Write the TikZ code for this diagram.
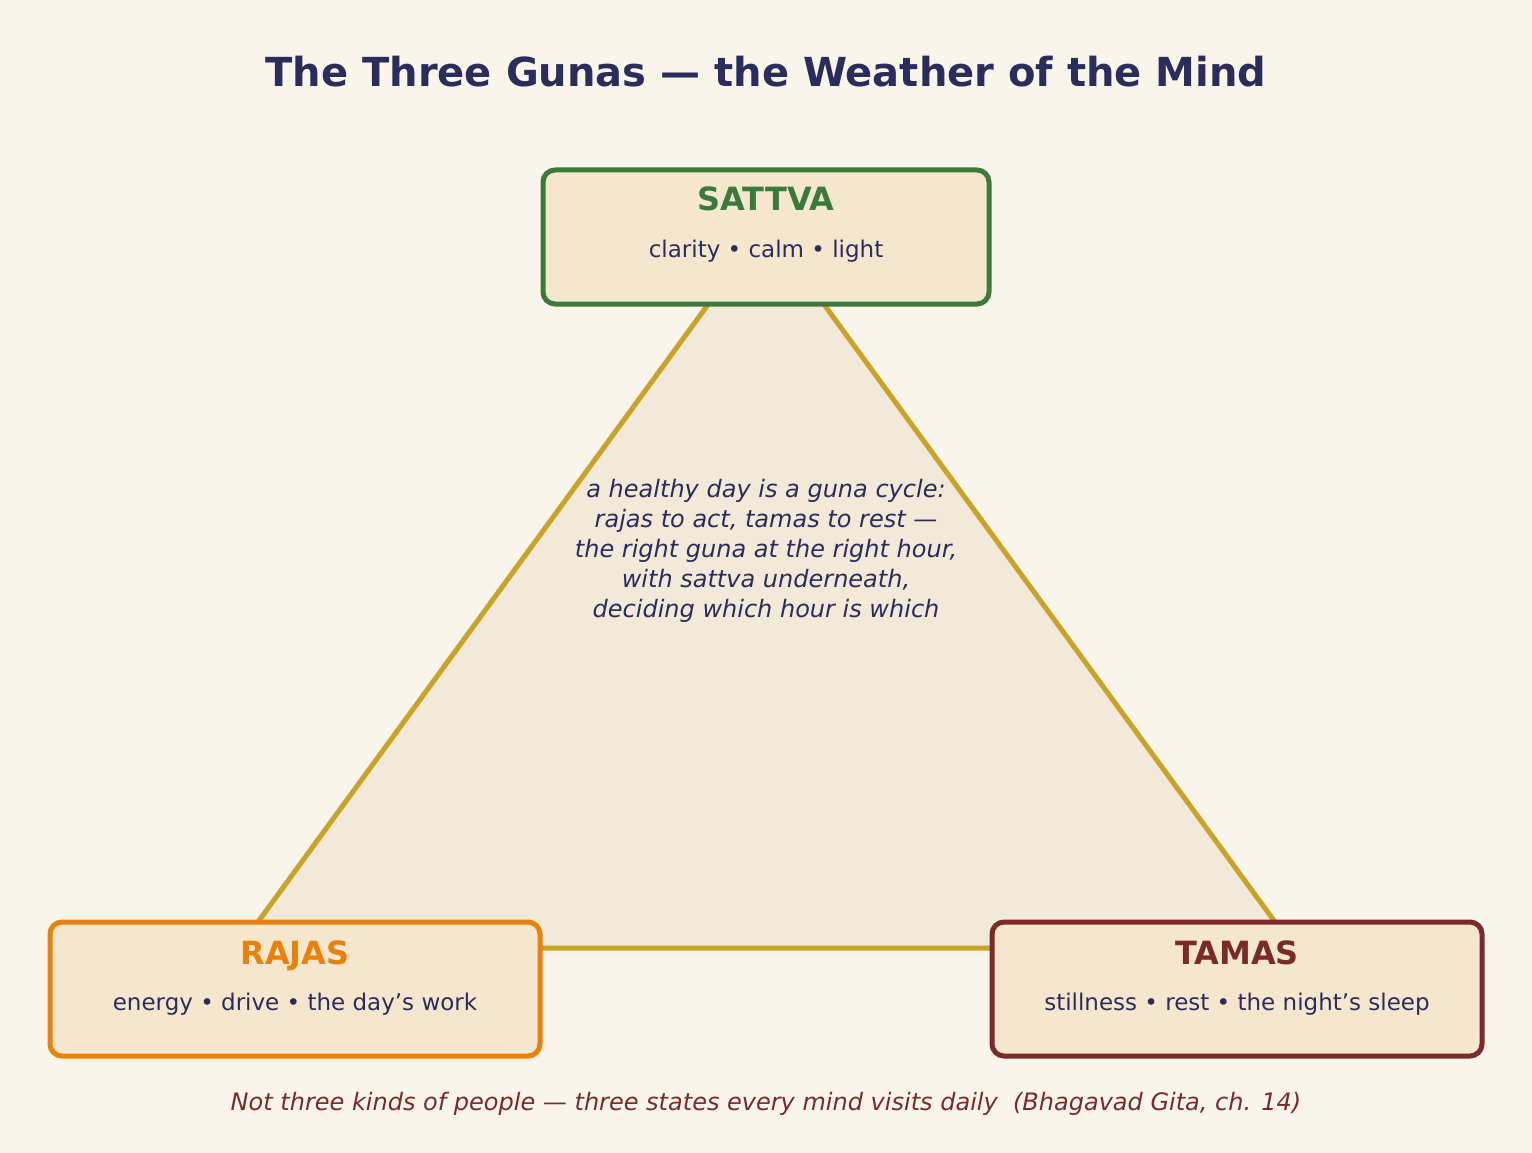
\documentclass[tikz,border=0pt]{standalone}
\usepackage{fontspec}
\setmainfont{DejaVu Sans}
\definecolor{bg}{HTML}{FAF5EB}
\definecolor{trifill}{HTML}{F2E9D8}
\definecolor{gold}{HTML}{C9A227}
\definecolor{boxfill}{HTML}{F4E7CE}
\definecolor{sgreen}{HTML}{3C7A3A}
\definecolor{rorange}{HTML}{E8820C}
\definecolor{tmaroon}{HTML}{7A2A2A}
\definecolor{navy}{HTML}{2A2D5C}
\begin{document}
\begin{tikzpicture}[x=1pt,y=-1pt,
  box/.style={draw=#1,line width=5pt,fill=boxfill,rounded corners=12pt},
  head/.style={font=\bfseries\fontsize{32}{36}\selectfont,text=#1,anchor=base},
  sub/.style={font=\fontsize{23}{28}\selectfont,text=navy,anchor=base}]
\fill[bg] (0,0) rectangle (1532,1153);
\node[font=\bfseries\fontsize{40}{46}\selectfont,text=navy,anchor=base] (title) at (766,87) {The Three Gunas — the Weather of the Mind};
\draw[gold,line width=5pt,fill=trifill,line join=miter] (239,948) coordinate (L) -- (766,225) coordinate (A) -- (1294,948) coordinate (R) -- cycle;
\draw[box=sgreen] (543,170) rectangle (989,304);
\draw[box=rorange] (50,922) rectangle (540,1056);
\draw[box=tmaroon] (992,922) rectangle (1482,1056);
\node[head=sgreen] (s) at (766,211) {SATTVA};
\node[sub] (s2) at (766,257) {clarity • calm • light};
\node[head=rorange] (r) at (295,964) {RAJAS};
\node[sub] (r2) at (295,1010) {energy • drive • the day’s work};
\node[head=tmaroon] (t) at (1237,964) {TAMAS};
\node[sub] (t2) at (1237,1010) {stillness • rest • the night’s sleep};
\node[font=\itshape\fontsize{24}{30}\selectfont,text=navy,align=center,anchor=north] (c) at (766,476) {a healthy day is a guna cycle:\\rajas to act, tamas to rest —\\the right guna at the right hour,\\with sattva underneath,\\deciding which hour is which};
\node[font=\itshape\fontsize{24}{30}\selectfont,text=tmaroon,anchor=base] (f) at (766,1110) {Not three kinds of people — three states every mind visits daily\ \ (Bhagavad Gita, ch. 14)};
\end{tikzpicture}
\end{document}
